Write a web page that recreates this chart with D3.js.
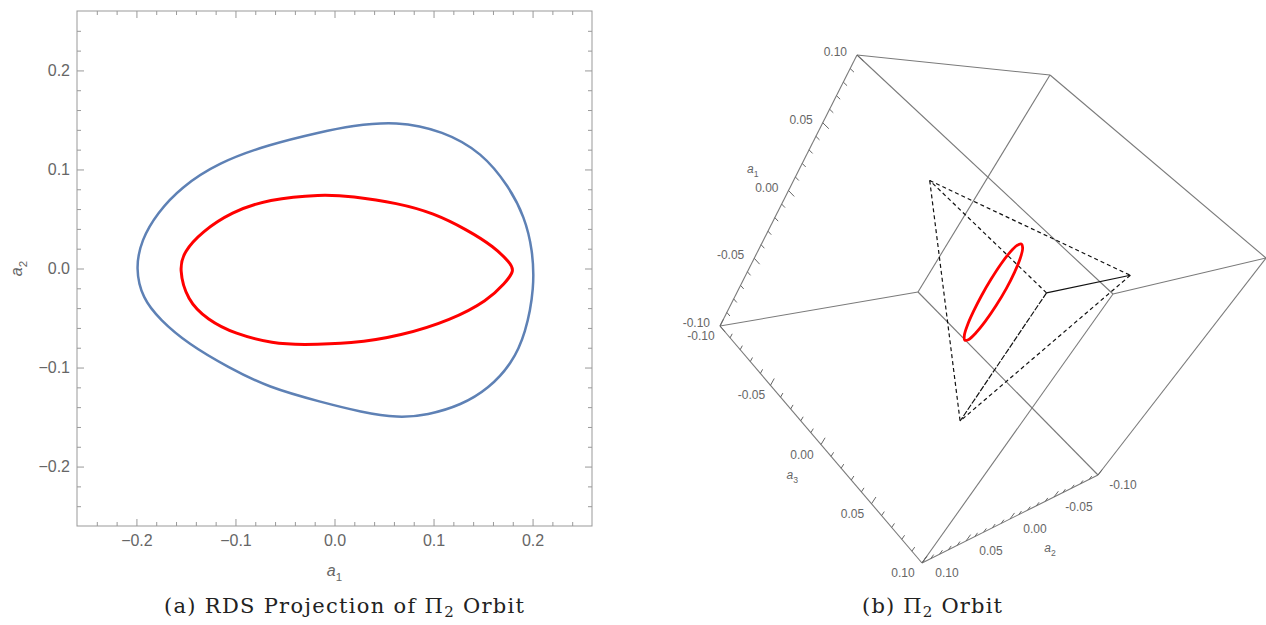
<!DOCTYPE html>
<html>
<head>
<meta charset="utf-8">
<script src="https://cdnjs.cloudflare.com/ajax/libs/d3/7.8.5/d3.min.js"></script>
<style>
  body { margin: 0; background: #fff; }
  text { font-family: "Liberation Sans", Arial, sans-serif; }
  .cap { font-family: "DejaVu Serif", "Liberation Serif", serif; }
</style>
</head>
<body>
<svg id="fig" width="1266" height="625"></svg>
<script>
// ---- panel (a): RDS projection, [a1, a2]
var outerOrbit = [
  [-0.201, 0.000], [-0.195, 0.029], [-0.179, 0.056], [-0.155, 0.082],
  [-0.117, 0.107], [-0.067, 0.125], [-0.013, 0.138], [0.017, 0.144],
  [0.062, 0.149], [0.110, 0.139], [0.149, 0.117], [0.176, 0.083],
  [0.192, 0.052], [0.200, 0.019], [0.202, -0.019], [0.193, -0.066],
  [0.179, -0.096], [0.156, -0.121], [0.128, -0.138], [0.094, -0.148],
  [0.064, -0.151], [0.027, -0.145], [-0.013, -0.135], [-0.067, -0.120],
  [-0.107, -0.100], [-0.148, -0.076], [-0.176, -0.052], [-0.194, -0.030]
];
var innerOrbit = [
  [-0.157, 0.000], [-0.152, 0.017], [-0.134, 0.037], [-0.104, 0.057],
  [-0.067, 0.070], [-0.013, 0.075], [0.017, 0.073], [0.064, 0.066],
  [0.100, 0.056], [0.134, 0.039], [0.161, 0.022], [0.177, 0.006],
  [0.182, -0.002], [0.172, -0.015], [0.155, -0.032], [0.118, -0.052],
  [0.067, -0.068], [0.017, -0.076], [-0.034, -0.077], [-0.061, -0.076],
  [-0.101, -0.066], [-0.128, -0.052], [-0.149, -0.032]
];
var planeTicks = [-0.2, -0.1, 0.0, 0.1, 0.2];
var planeTickLabels = ["\u22120.2", "\u22120.1", "0.0", "0.1", "0.2"];

// ---- panel (b): 3D orbit, [a1, a2, a3]
var boxTicks = [-0.10, -0.05, 0.00, 0.05, 0.10];
var boxTickLabels = ["-0.10", "-0.05", "0.00", "0.05", "0.10"];
var tetra = [[0.05, 0.05, 0.05], [0.05, 0.05, -0.05], [0.05, -0.05, 0.05], [-0.05, 0.05, 0.05]];
var tetraEdges = [[0, 1], [0, 2], [0, 3], [1, 2], [1, 3], [2, 3]];
var orbit3d = [
  [0.0400, 0.0035, 0.0000], [0.0424, 0.0115, 0.0058], [0.0396, 0.0181, 0.0109],
  [0.0321, 0.0226, 0.0147], [0.0208, 0.0242, 0.0167], [0.0068, 0.0230, 0.0167],
  [-0.0079, 0.0190, 0.0147], [-0.0216, 0.0127, 0.0109], [-0.0328, 0.0049, 0.0058],
  [-0.0400, -0.0035, 0.0000], [-0.0424, -0.0115, -0.0058], [-0.0396, -0.0181, -0.0109],
  [-0.0321, -0.0226, -0.0147], [-0.0208, -0.0242, -0.0167], [-0.0068, -0.0230, -0.0167],
  [0.0079, -0.0190, -0.0147], [0.0216, -0.0127, -0.0109], [0.0328, -0.0049, -0.0058]
];

var svg = d3.select("#fig");
var grey = "#666";

// ================= panel (a) =================
var x = d3.scaleLinear().domain([-0.26, 0.26]).range([77, 592]);
var y = d3.scaleLinear().domain([-0.26, 0.26]).range([526, 11]);
var minor = d3.range(-12, 13).map(function (i) { return i / 50; })
  .filter(function (v) { return Math.abs(Math.round(v * 10) - v * 10) > 1e-6; });

var pa = svg.append("g");
function fmt(v) { return planeTickLabels[planeTicks.indexOf(v)]; }

function addAxis(axis, tr, vals, size, pad) {
  var g = pa.append("g").attr("transform", tr)
    .call(axis.tickValues(vals).tickSizeInner(-size).tickSizeOuter(0)
      .tickPadding(pad || 0)
      .tickFormat(pad ? fmt : ""));
  g.select(".domain").remove();
  g.selectAll("line").attr("stroke", "#999");
  g.selectAll("text").attr("fill", grey).style("font-size", "16px")
    .style("font-family", "'Liberation Sans', Arial, sans-serif");
}
addAxis(d3.axisBottom(x), "translate(0,526)", planeTicks, 7, 9);
addAxis(d3.axisBottom(x), "translate(0,526)", minor, 4);
addAxis(d3.axisLeft(y), "translate(77,0)", planeTicks, 7, 7);
addAxis(d3.axisLeft(y), "translate(77,0)", minor, 4);
addAxis(d3.axisTop(x), "translate(0,11)", planeTicks, 7);
addAxis(d3.axisTop(x), "translate(0,11)", minor, 4);
addAxis(d3.axisRight(y), "translate(592,0)", planeTicks, 7);
addAxis(d3.axisRight(y), "translate(592,0)", minor, 4);

pa.append("rect").attr("x", 77).attr("y", 11).attr("width", 515).attr("height", 515)
  .attr("fill", "none").attr("stroke", "#999").attr("stroke-width", 1);

var line2 = d3.line().x(function (d) { return x(d[0]); }).y(function (d) { return y(d[1]); })
  .curve(d3.curveBasisClosed);
pa.append("path").attr("d", line2(outerOrbit)).attr("fill", "none")
  .attr("stroke", "#5e81b5").attr("stroke-width", 2.5);
pa.append("path").attr("d", line2(innerOrbit)).attr("fill", "none")
  .attr("stroke", "#ff0000").attr("stroke-width", 3);

function axisTitle(g, px, py, sub, rot, size) {
  var t = g.append("text").attr("fill", grey).style("font-size", size + "px")
    .attr("text-anchor", "middle")
    .attr("transform", "translate(" + px + "," + py + ")" + (rot ? " rotate(-90)" : ""));
  t.append("tspan").style("font-style", "italic").text("a");
  t.append("tspan").attr("dy", size * 0.3).style("font-size", (size * 0.72) + "px").text(sub);
}
axisTitle(pa, x(0), 576, "1", false, 16);
axisTitle(pa, 22, y(0), "2", true, 16);

function caption(cx, len, lead) {
  svg.append("text").attr("class", "cap").attr("x", cx).attr("y", 613)
    .attr("text-anchor", "middle").style("font-size", "21px").attr("fill", "#222")
    .attr("textLength", len).attr("lengthAdjust", "spacing")
    .html(lead + "\u03A0<tspan dy='4' font-size='15'>2</tspan><tspan dy='-4'> Orbit</tspan>");
}
caption(344, 360, "(a) RDS Projection of ");

// ================= panel (b) =================
// screen position of each box corner, signs of (a1, a2, a3)
var boxCorners = [
  { s: [-1, 1, -1], xy: [720, 326] }, { s: [-1, -1, -1], xy: [918, 292] },
  { s: [1, 1, -1], xy: [857, 55] }, { s: [1, -1, -1], xy: [1050, 75] },
  { s: [-1, 1, 1], xy: [922, 563] }, { s: [-1, -1, 1], xy: [1098, 475] },
  { s: [1, 1, 1], xy: [1113, 294] }, { s: [1, -1, 1], xy: [1266, 258] }
];
var unit = d3.scaleLinear().domain([-0.1, 0.1]).range([0, 1]);
function project(p) {
  var u = [unit(p[0]), unit(p[1]), unit(p[2])];
  var sx = 0, sy = 0;
  boxCorners.forEach(function (c) {
    var w = 1;
    for (var k = 0; k < 3; k++) w *= c.s[k] > 0 ? u[k] : 1 - u[k];
    sx += w * c.xy[0];
    sy += w * c.xy[1];
  });
  return [sx, sy];
}

var pb = svg.append("g");
// box edges
boxCorners.forEach(function (c1, i) {
  boxCorners.forEach(function (c2, j) {
    if (j <= i) return;
    var diff = 0;
    for (var k = 0; k < 3; k++) if (c1.s[k] !== c2.s[k]) diff++;
    if (diff !== 1) return;
    pb.append("line").attr("x1", c1.xy[0]).attr("y1", c1.xy[1])
      .attr("x2", c2.xy[0]).attr("y2", c2.xy[1])
      .attr("stroke", "#7a7a7a").attr("stroke-width", 1.1);
  });
});

// axes: which coordinate varies, the fixed edge point, tick direction, label offset
var boxAxes = [
  { k: 0, base: [0, 0.1, -0.1], dir: 2, off: [-10, -3], anchor: "end", title: "1", tv: 0.012, toff: [-44, -1] },
  { k: 2, base: [-0.1, 0.1, 0], dir: 0, off: [-19, 10], anchor: "middle", title: "3", tv: 0.025, toff: [-54, 5] },
  { k: 1, base: [-0.1, 0, 0.1], dir: 0, off: [25, 10], anchor: "middle", title: "2", tv: 0.0, toff: [40, 33] }
];
var boxMinor = d3.range(-10, 11).map(function (i) { return i / 100; });
boxAxes.forEach(function (ax) {
  boxMinor.forEach(function (v) {
    var p = ax.base.slice(); p[ax.k] = v;
    var q = p.slice();
    var major = Math.abs(v * 20 - Math.round(v * 20)) < 1e-6;
    q[ax.dir] += major ? 0.005 : 0.003;
    var a = project(p), b = project(q);
    pb.append("line").attr("x1", a[0]).attr("y1", a[1]).attr("x2", b[0]).attr("y2", b[1])
      .attr("stroke", "#666").attr("stroke-width", 1);
  });
  boxTicks.forEach(function (v, i) {
    var p = ax.base.slice(); p[ax.k] = v;
    var a = project(p);
    pb.append("text").attr("x", a[0] + ax.off[0]).attr("y", a[1] + ax.off[1])
      .attr("dy", "0.35em").attr("text-anchor", ax.anchor)
      .attr("fill", grey).style("font-size", "12px").text(boxTickLabels[i]);
  });
  var p = ax.base.slice(); p[ax.k] = ax.tv;
  var a = project(p);
  axisTitle(pb, a[0] + ax.toff[0], a[1] + ax.toff[1], ax.title, false, 12);
});

// dashed tetrahedron
tetraEdges.forEach(function (e) {
  var a = project(tetra[e[0]]), b = project(tetra[e[1]]);
  var dash = "4,3";
  if (e[0] === 0 && e[1] === 2) dash = null;
  if (e[0] === 0 && e[1] === 3) dash = "6,1.5";
  pb.append("line").attr("x1", a[0]).attr("y1", a[1]).attr("x2", b[0]).attr("y2", b[1])
    .attr("stroke", "#111").attr("stroke-width", 1.2)
    .attr("stroke-dasharray", dash);
});

// orbit
var line3 = d3.line().x(function (d) { return project(d)[0]; }).y(function (d) { return project(d)[1]; })
  .curve(d3.curveCatmullRomClosed);
pb.append("path").attr("d", line3(orbit3d)).attr("fill", "none")
  .attr("stroke", "#ff0000").attr("stroke-width", 2.8);

caption(932, 140, "(b) ");
</script>
</body>
</html>
